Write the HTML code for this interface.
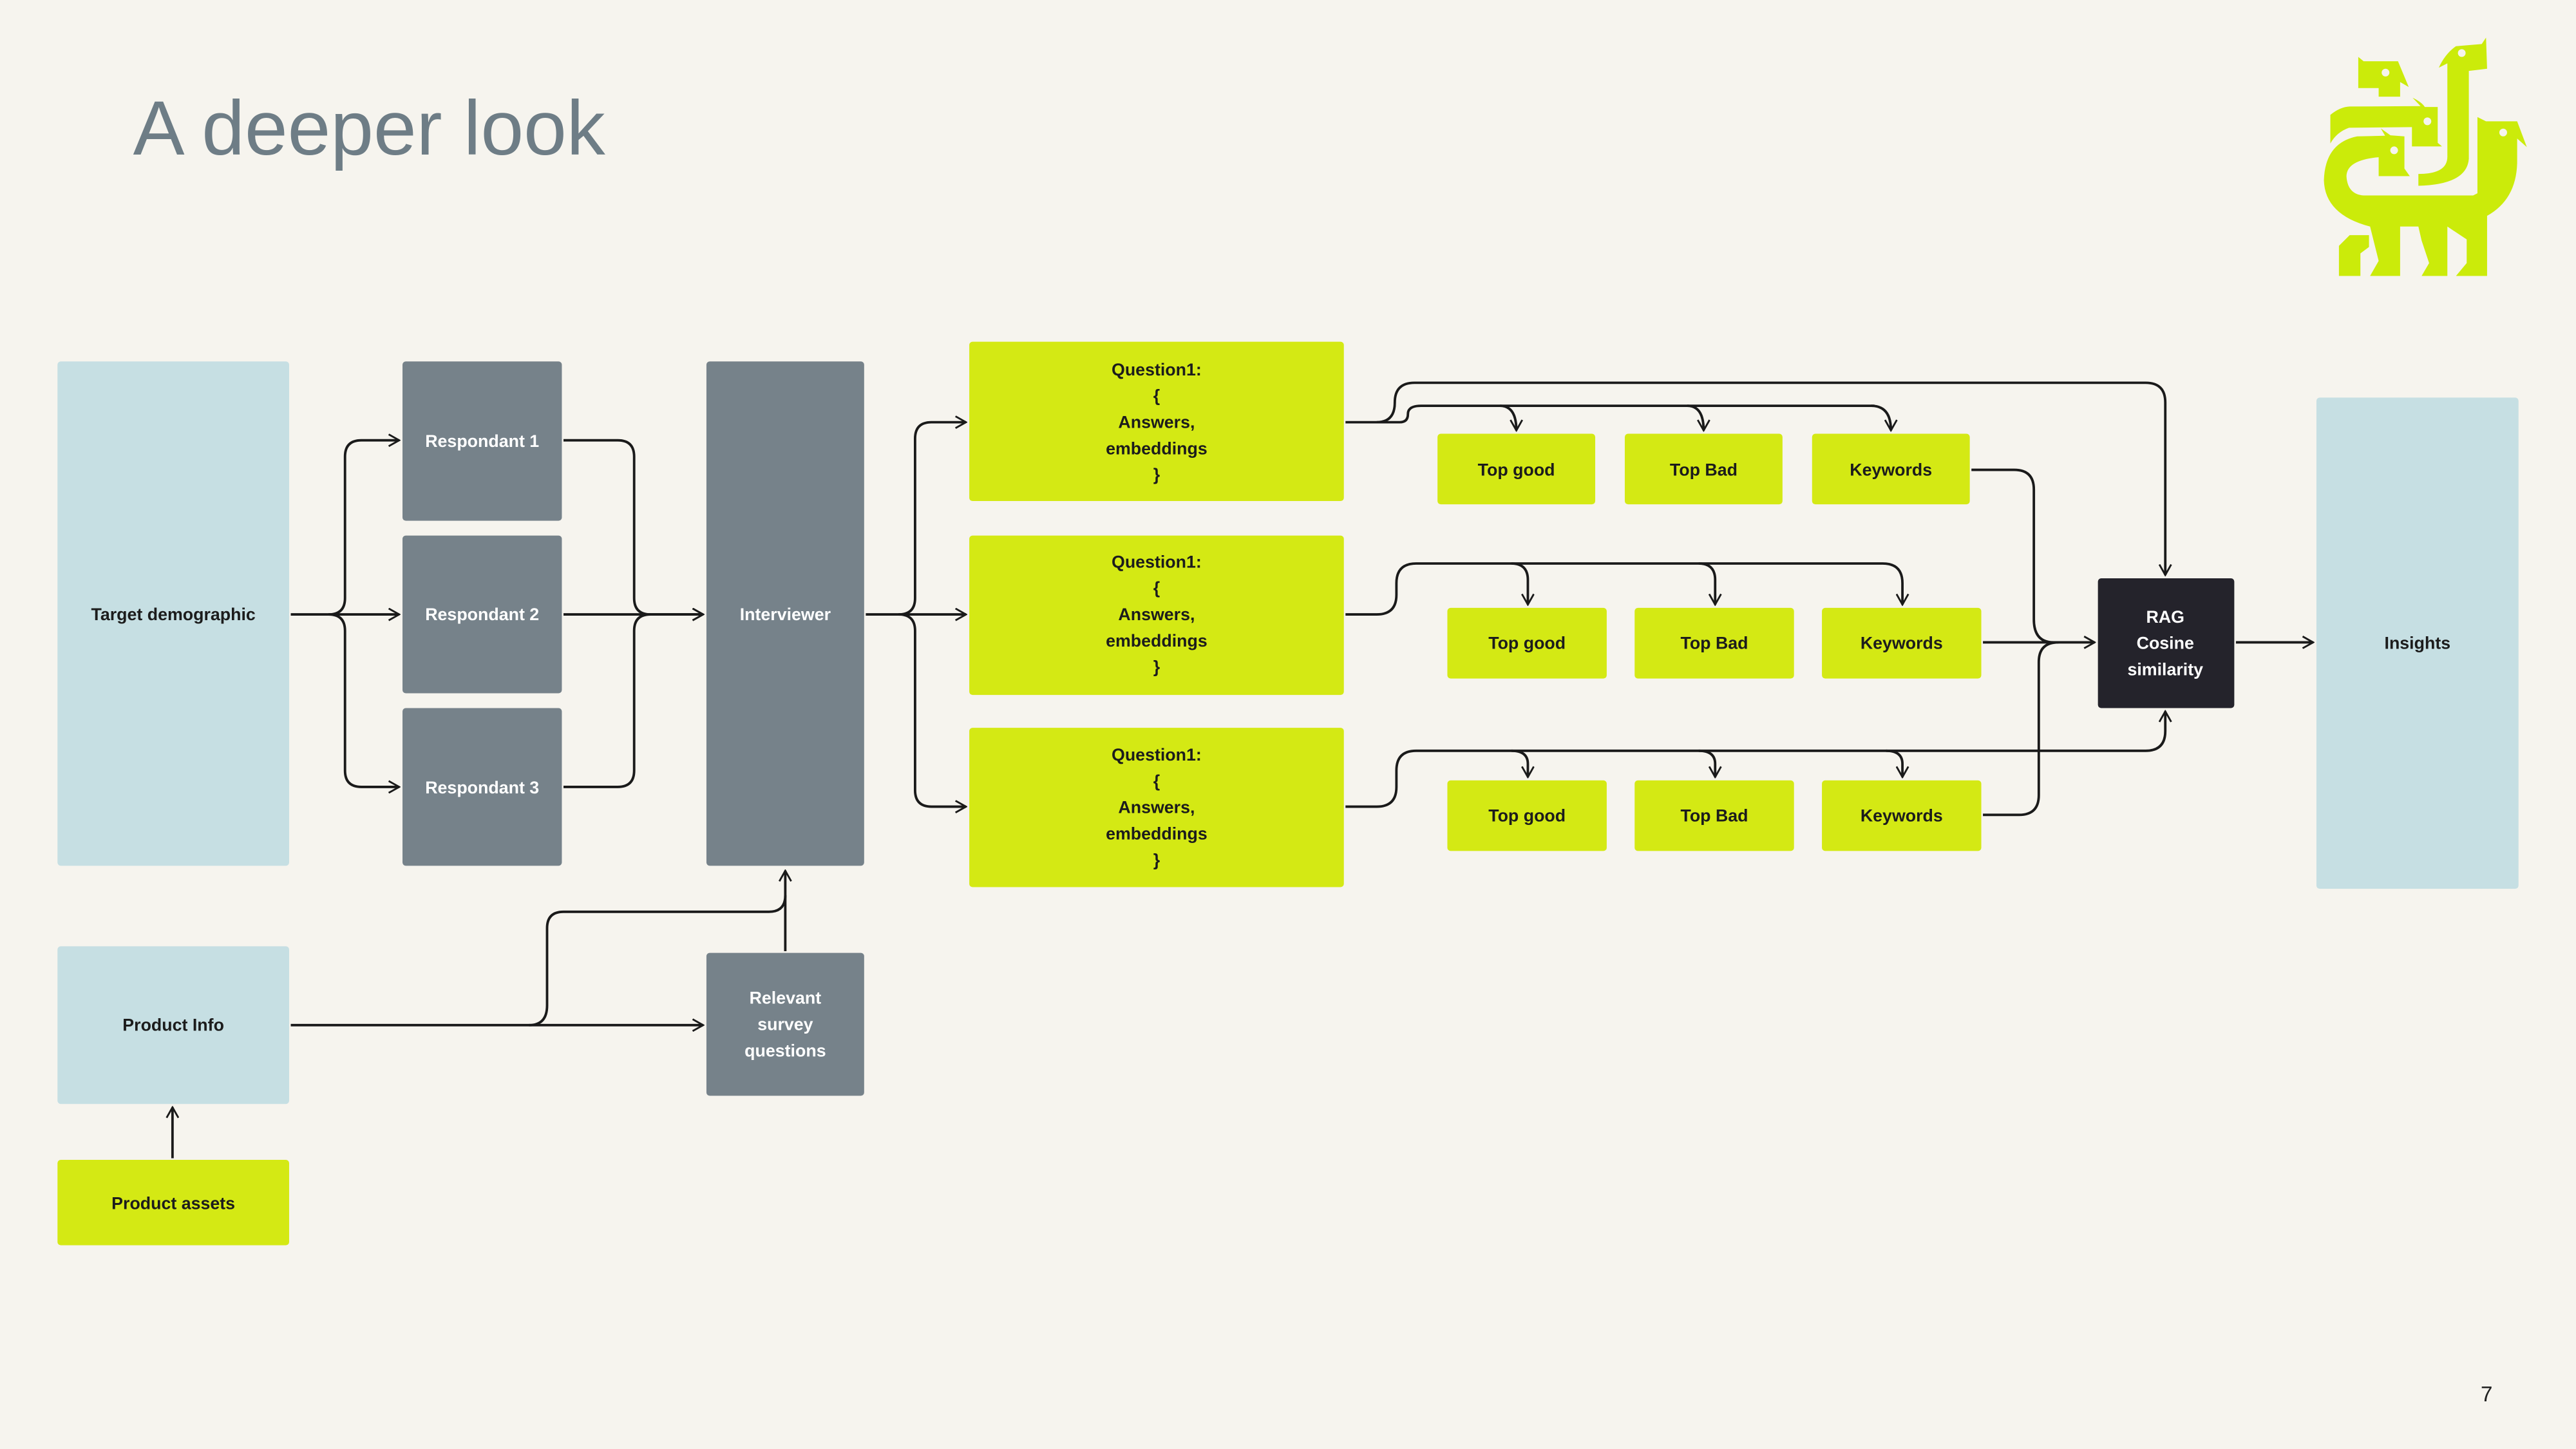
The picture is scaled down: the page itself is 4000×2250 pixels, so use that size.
<!DOCTYPE html>
<html><head><meta charset="utf-8"><style>
html,body{margin:0;padding:0;background:#f6f4ee;}
svg{display:block;}
text{font-family:"Liberation Sans",Arial,sans-serif;}
</style></head><body>
<svg width="4000" height="2250" viewBox="0 0 1568 882" xmlns="http://www.w3.org/2000/svg">
<defs>
<marker id="a" viewBox="0 0 10 10" refX="9" refY="5" markerWidth="8" markerHeight="8" markerUnits="userSpaceOnUse" orient="auto">
<path d="M1,0.5 L9,5 L1,9.5" fill="none" stroke="#1a1a1a" stroke-width="1.4"/>
</marker>
</defs>
<rect width="1568" height="882" fill="#f6f4ee"/>
<text x="81" y="94" font-size="47" fill="#6e7d86">A deeper look</text>
<text x="1510" y="853" font-size="13" fill="#222">7</text>

<!-- logo -->
<g transform="translate(1395.6,15.7) scale(0.1307)" fill="#cbeb0a">
<path d="M305,145 L330,165 L490,165 L540,285 L500,262 L500,330 L400,330 L400,290 L305,290 Z"/>
<path d="M680,195 Q710,130 760,95 L880,85 L900,55 L905,200 L820,210 L820,620 Q810,740 585,745 L585,690 Q720,690 720,610 L720,175 Z"/>
<path d="M175,415 Q220,378 265,376 L595,374 L558,335 Q600,355 615,378 L675,378 L675,545 L695,562 L555,562 L555,472 L262,475 Q205,495 175,548 Z"/>
<path fill-rule="evenodd" d="M410,478 L455,510 L520,515 L520,665 L545,700 L400,700 L400,612 Q252,625 250,700 Q255,785 330,790 L840,790 L860,780 L860,425 L900,445 L1045,445 L1090,565 L1045,525 L1045,640 Q1040,810 905,885 L905,1165 L760,1165 L810,1105 L810,995 L720,935 L720,1165 L600,1165 L635,1105 L600,1000 L585,935 L500,935 L500,1165 L360,1165 L400,1095 L360,935 Q150,880 145,720 Q150,545 300,515 L430,512 Z"/>
<path d="M215,1025 L265,975 L355,975 L355,1030 L315,1060 L315,1165 L215,1165 Z"/>
<g fill="#f6f4ee"><circle cx="432" cy="218" r="18"/><circle cx="787" cy="127" r="18"/><circle cx="627" cy="445" r="18"/><circle cx="472" cy="580" r="18"/><circle cx="980" cy="497" r="18"/></g>
</g>

<!-- boxes -->
<g>
<rect x="35" y="220" width="141" height="307" rx="2" fill="#c6dfe3"/>
<rect x="245" y="220" width="97" height="97" rx="2" fill="#76828a"/>
<rect x="245" y="326" width="97" height="96" rx="2" fill="#76828a"/>
<rect x="245" y="431" width="97" height="96" rx="2" fill="#76828a"/>
<rect x="430" y="220" width="96" height="307" rx="2" fill="#76828a"/>
<rect x="590" y="208" width="228" height="97" rx="2" fill="#d4e914"/>
<rect x="590" y="326" width="228" height="97" rx="2" fill="#d4e914"/>
<rect x="590" y="443" width="228" height="97" rx="2" fill="#d4e914"/>
<g fill="#d4e914">
<rect x="875" y="264" width="96" height="43" rx="2"/><rect x="989" y="264" width="96" height="43" rx="2"/><rect x="1103" y="264" width="96" height="43" rx="2"/>
<rect x="881" y="370" width="97" height="43" rx="2"/><rect x="995" y="370" width="97" height="43" rx="2"/><rect x="1109" y="370" width="97" height="43" rx="2"/>
<rect x="881" y="475" width="97" height="43" rx="2"/><rect x="995" y="475" width="97" height="43" rx="2"/><rect x="1109" y="475" width="97" height="43" rx="2"/>
</g>
<rect x="1277" y="352" width="83" height="79" rx="2" fill="#24232b"/>
<rect x="1410" y="242" width="123" height="299" rx="2" fill="#c6dfe3"/>
<rect x="35" y="576" width="141" height="96" rx="2" fill="#c6dfe3"/>
<rect x="35" y="706" width="141" height="52" rx="2" fill="#d4e914"/>
<rect x="430" y="580" width="96" height="87" rx="2" fill="#76828a"/>
</g>

<!-- labels -->
<g font-size="10.5" font-weight="bold" text-anchor="middle" fill="#1c1c1c">
<text x="105.5" y="377.5">Target demographic</text>
<text x="293.5" y="272" fill="#fff">Respondant 1</text>
<text x="293.5" y="377.5" fill="#fff">Respondant 2</text>
<text x="293.5" y="483" fill="#fff">Respondant 3</text>
<text x="478" y="377.5" fill="#fff">Interviewer</text>
<text x="704" y="228.5">Question1:</text><text x="704" y="244.5">{</text><text x="704" y="260.5">Answers,</text><text x="704" y="276.5">embeddings</text><text x="704" y="292.5">}</text>
<text x="704" y="345.5">Question1:</text><text x="704" y="361.5">{</text><text x="704" y="377.5">Answers,</text><text x="704" y="393.5">embeddings</text><text x="704" y="409.5">}</text>
<text x="704" y="463">Question1:</text><text x="704" y="479">{</text><text x="704" y="495">Answers,</text><text x="704" y="511">embeddings</text><text x="704" y="527">}</text>
<text x="923" y="289.5">Top good</text><text x="1037" y="289.5">Top Bad</text><text x="1151" y="289.5">Keywords</text>
<text x="929.5" y="395">Top good</text><text x="1043.5" y="395">Top Bad</text><text x="1157.5" y="395">Keywords</text>
<text x="929.5" y="500">Top good</text><text x="1043.5" y="500">Top Bad</text><text x="1157.5" y="500">Keywords</text>
<text x="1318" y="379" fill="#fff">RAG</text><text x="1318" y="395" fill="#fff">Cosine</text><text x="1318" y="411" fill="#fff">similarity</text>
<text x="1471.5" y="395">Insights</text>
<text x="105.5" y="627.5">Product Info</text>
<text x="105.5" y="736">Product assets</text>
<text x="478" y="611" fill="#fff">Relevant</text><text x="478" y="627" fill="#fff">survey</text><text x="478" y="643" fill="#fff">questions</text>
</g>

<!-- connectors -->
<g fill="none" stroke="#1a1a1a" stroke-width="1.5">
<path d="M177,374 L200,374 Q210,374 210,364 L210,278 Q210,268 220,268 L243,268" marker-end="url(#a)"/>
<path d="M200,374 L243,374" marker-end="url(#a)"/>
<path d="M200,374 Q210,374 210,384 L210,469 Q210,479 220,479 L243,479" marker-end="url(#a)"/>
<path d="M343,268 L376,268 Q386,268 386,278 L386,364 Q386,374 396,374 L428,374" marker-end="url(#a)"/>
<path d="M343,374 L428,374" marker-end="url(#a)"/>
<path d="M343,479 L376,479 Q386,479 386,469 L386,384 Q386,374 396,374"/>
<path d="M527,374 L547,374 Q557,374 557,364 L557,267 Q557,257 567,257 L588,257" marker-end="url(#a)"/>
<path d="M547,374 L588,374" marker-end="url(#a)"/>
<path d="M547,374 Q557,374 557,384 L557,481 Q557,491 567,491 L588,491" marker-end="url(#a)"/>
<path d="M177,624 L428,624" marker-end="url(#a)"/>
<path d="M322,624 Q333,624 333,612 L333,565 Q333,555 343,555 L468,555 Q478,555 478,545 L478,530" marker-end="url(#a)"/>
<path d="M478,579 L478,545"/>
<path d="M105,705 L105,674" marker-end="url(#a)"/>
<!-- row 1 -->
<path d="M819,257 L838,257 Q849,257 849,245 Q849,233 861,233 L1306,233 Q1318,233 1318,245 L1318,350" marker-end="url(#a)"/>
<path d="M838,257 L852,257 Q857,257 857,252 Q857,247 865,247 L1141,247"/>
<path d="M913,247 Q923,247 923,262" marker-end="url(#a)"/>
<path d="M1027,247 Q1037,247 1037,262" marker-end="url(#a)"/>
<path d="M1139,247 Q1151,247 1151,262" marker-end="url(#a)"/>
<!-- row 2 -->
<path d="M819,374 L838,374 Q850,374 850,362 L850,355 Q850,343 862,343 L1146,343 Q1158,343 1158,355 L1158,368" marker-end="url(#a)"/>
<path d="M920,343 Q930,343 930,353 L930,368" marker-end="url(#a)"/>
<path d="M1034,343 Q1044,343 1044,353 L1044,368" marker-end="url(#a)"/>
<!-- row 3 -->
<path d="M819,491 L838,491 Q850,491 850,479 L850,469 Q850,457 862,457 L1306,457 Q1318,457 1318,445 L1318,433" marker-end="url(#a)"/>
<path d="M920,457 Q930,457 930,465 L930,473" marker-end="url(#a)"/>
<path d="M1034,457 Q1044,457 1044,465 L1044,473" marker-end="url(#a)"/>
<path d="M1148,457 Q1158,457 1158,465 L1158,473" marker-end="url(#a)"/>
<!-- keywords to RAG -->
<path d="M1200,286 L1226,286 Q1238,286 1238,298 L1238,377 Q1238,391 1250,391"/>
<path d="M1207,391 L1275,391" marker-end="url(#a)"/>
<path d="M1207,496 L1229,496 Q1241,496 1241,484 L1241,403 Q1241,391 1253,391"/>
<path d="M1361,391 L1408,391" marker-end="url(#a)"/>
</g>
</svg>
</body></html>
